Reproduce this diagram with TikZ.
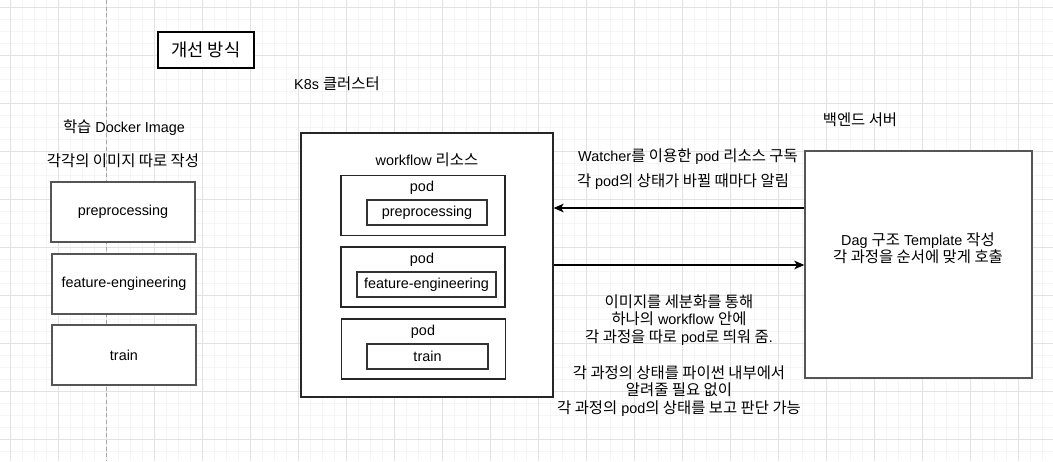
\documentclass[tikz,border=0pt]{standalone}
\usepackage{fontspec}
\setmainfont{Liberation Sans}
\newfontfamily\kr{Noto Sans CJK KR}[Scale=1.07]
\newcommand{\K}[1]{{\kr #1}}
\usetikzlibrary{arrows.meta}
\definecolor{gmajor}{HTML}{E2E2E2}
\definecolor{gminor}{HTML}{F5F5F5}
\definecolor{boxline}{HTML}{555555}
\begin{document}
\begin{tikzpicture}[x=0.75pt,y=-0.75pt,
  font=\fontsize{10.8pt}{13pt}\selectfont,
  minorline/.style={draw=gminor,line width=0.75pt},
  majorline/.style={draw=gmajor,line width=0.75pt},
  pageline/.style={draw=black!35,line width=0.75pt,dash pattern=on 3pt off 2pt},
  imgbox/.style={draw=boxline,line width=1.1pt,fill=white,minimum width=108pt,minimum height=45pt,inner sep=0pt},
  podbox/.style={draw=black!85,line width=1pt,fill=white,minimum width=123pt,minimum height=45pt,inner sep=0pt},
  innerbox/.style={draw=black!80,line width=1pt,fill=white,minimum height=18.75pt,inner sep=0pt},
  bigbox/.style={draw=black!85,line width=1pt,fill=white,inner sep=0pt},
  txt/.style={inner sep=0pt,text height=0.75em,text depth=0.2em},
  mtxt/.style={inner sep=0pt,align=center},
  arr/.style={draw=black,line width=0.9pt,-{Stealth[length=7.5pt,width=6.5pt,inset=2pt]}}]
\useasboundingbox (0,0) rectangle (1053,461);
\fill[white] (0,0) rectangle (1053,461);
% grid
\foreach \x in {10,22,...,1050} \draw[minorline] (\x,0) -- (\x,461);
\foreach \y in {7,19,...,460} \draw[minorline] (0,\y) -- (1053,\y);
\foreach \x in {10,58,...,1050} \draw[majorline] (\x,0) -- (\x,461);
\foreach \y in {7,55,...,460} \draw[majorline] (0,\y) -- (1053,\y);
\draw[pageline] (106,0) -- (106,461);

% title
\node[draw=black,line width=1.1pt,fill=white,minimum width=72pt,minimum height=27pt,inner sep=0pt,
      font=\fontsize{12.4pt}{14pt}\selectfont] (title) at (206,50) {\K{개선 방식}};

% left column
\node[txt] (dockerlbl) at (124,129) {\K{학습} Docker Image};
\node[txt] (eachlbl) at (123,163) {\K{각각의 이미지 따로 작성}};
\node[imgbox] (imgprep) at (123,212) {preprocessing};
\node[imgbox] (imgfeat) at (124,284) {feature-engineering};
\node[imgbox] (imgtrain) at (124,355) {train};

% k8s
\node[txt] (k8slbl) at (337,86) {K8s \K{클러스터}};
\node[bigbox,minimum width=189pt,minimum height=198pt] (wf) at (427,265) {};
\node[txt] (wflbl) at (427,162) {workflow \K{리소스}};

\node[podbox] (pod1) at (423,205.5) {};
\node[txt] (pod1lbl) at (422,188) {pod};
\node[innerbox,minimum width=90pt] (in1) at (427,212.5) {preprocessing};

\node[podbox] (pod2) at (423,277) {};
\node[txt] (pod2lbl) at (422,260) {pod};
\node[innerbox,minimum width=104.25pt] (in2) at (426.5,284.5) {feature-engineering};

\node[podbox] (pod3) at (423.5,349) {};
\node[txt] (pod3lbl) at (423,332) {pod};
\node[innerbox,minimum width=90.75pt] (in3) at (427.5,356.5) {train};

% backend
\node[txt] (belbl) at (860,122) {\K{백엔드 서버}};
\node[bigbox,draw=boxline,line width=1.1pt,minimum width=170.25pt,minimum height=170.25pt] (be) at (918.5,264.5) {};
\node[mtxt] (dag) at (918,248.5) {Dag \K{구조} Template \K{작성}\\\K{각 과정을 순서에 맞게 호출}};

% arrows
\draw[arr] (be.west |- 0,208) -- (wf.east |- 0,208);
\draw[arr] (wf.east |- 0,265) -- (be.west |- 0,265);

\node[txt] (watch1) at (688,158) {Watcher\K{를 이용한} pod \K{리소스 구독}};
\node[txt] (watch2) at (683,183) {\K{각} pod\K{의 상태가 바뀔 때마다 알림}};

\node[mtxt,font=\fontsize{10.8pt}{12.9pt}\selectfont] (note) at (679,355.5)
 {\K{이미지를 세분화를 통해}\\
  \K{하나의} workflow \K{안에}\\
  \K{각 과정을 따로} pod\K{로 띄워 줌}.\\[0pt]
  \strut\\
  \K{각 과정의 상태를 파이썬 내부에서}\\
  \K{알려줄 필요 없이}\\
  \K{각 과정의} pod\K{의 상태를 보고 판단 가능}};
\end{tikzpicture}
\end{document}
